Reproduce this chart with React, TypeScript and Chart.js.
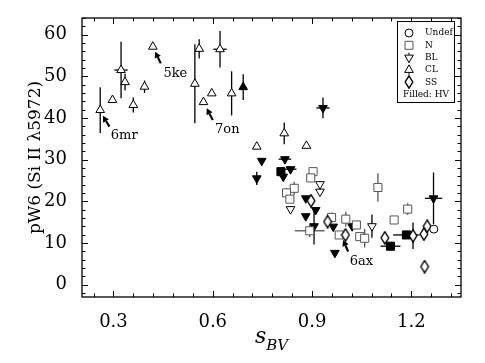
import React, { useEffect, useRef } from 'react';
import { Chart, registerables } from 'chart.js';

Chart.register(...registerables);

const FONT = '"DejaVu Serif", serif';

// ---- Data ----
const xTicks = [0.3, 0.6, 0.9, 1.2];
const yTicks = [0, 10, 20, 30, 40, 50, 60];
const xLimits = [0.205, 1.35];
const yLimits = [-3, 64];

// Undef (open circles)
const undefX = [1.268];
const undefY = [13.3];

// N (open squares)
const nX = [0.903, 0.896, 0.846, 0.823, 0.833, 0.893, 0.959, 1.002, 1.034, 0.982, 1.044, 1.059, 1.099, 1.148, 1.189];
const nY = [27.1, 25.6, 23.1, 22.0, 20.5, 12.9, 16.1, 15.7, 14.3, 11.9, 11.5, 11.1, 23.3, 15.5, 18.1];
const nXErr = [0, 0, 0, 0, 0, 0.045, 0, 0, 0, 0, 0, 0, 0, 0, 0];
const nYErr = [0, 0, 1.6, 1.2, 0, 1.5, 1.2, 1.8, 0, 0, 0, 2.2, 3.4, 0, 1.4];

// N, HV (filled squares)
const nhvX = [0.806, 1.137, 1.185];
const nhvY = [27.1, 9.2, 11.9];
const nhvXErr = [0, 0.03, 0.04];

// BL (open down triangles)
const blX = [0.924, 0.924, 0.835, 1.081];
const blY = [24.1, 22.3, 18.1, 14.0];
const blYErr = [0, 0, 0, 2.8];

// BL, HV (filled down triangles)
const blhvX = [0.933, 0.748, 0.733, 0.818, 0.835, 0.813, 0.881, 0.911, 0.881, 0.906, 0.964, 0.969, 1.021, 1.267];
const blhvY = [42.4, 29.7, 25.5, 30.1, 27.7, 25.9, 20.7, 17.9, 16.4, 14.0, 13.9, 7.6, 14.0, 20.7];
const blhvXErr = [0.02, 0, 0, 0.019, 0.018, 0, 0, 0, 0, 0, 0, 0, 0, 0.026];
const blhvYErr = [2.5, 0, 1.6, 0, 0, 0, 0, 0, 0, 4.4, 0, 0, 0, 6.2];

// CL (open up triangles)
const clX = [0.260, 0.297, 0.323, 0.335, 0.360, 0.394, 0.419, 0.546, 0.559, 0.572, 0.597, 0.622, 0.657, 0.733, 0.816, 0.883];
const clY = [41.9, 44.3, 51.5, 48.6, 43.1, 47.5, 57.1, 48.2, 56.6, 43.8, 45.9, 56.5, 45.9, 33.1, 36.3, 33.3];
const clXErr = [0, 0, 0.02, 0, 0, 0, 0, 0, 0, 0, 0, 0.02, 0, 0, 0, 0];
const clYErr = [5.5, 0, 6.8, 2.0, 1.8, 1.5, 0, 9.5, 2.3, 0, 0, 4.4, 5.3, 0, 2.6, 0];

// CL, HV (filled up triangles)
const clhvX = [0.692];
const clhvY = [47.4];
const clhvYErr = [3.1];

// SS (open thin diamonds)
const ssX = [0.897, 0.947, 1.001, 1.120, 1.205, 1.238, 1.248, 1.240];
const ssY = [20.1, 15.1, 11.9, 11.2, 11.7, 12.1, 14.0, 4.3];
const ssYErr = [0, 0, 0, 0, 3.2, 0, 0, 0];

// Annotations: label, text anchor (x, y), arrow tail (x, y), arrow head (x, y)
const annLabels = ['6mr', '5ke', '7on', '6ax'];
const annText = [[0.292, 35.7], [0.451, 50.7], [0.607, 37.3], [1.014, 5.5]];
const annTail = [[0.288, 37.9], [0.443, 53.1], [0.600, 39.5], [1.009, 7.9]];
const annHead = [[0.268, 40.5], [0.426, 55.9], [0.582, 42.3], [0.994, 10.7]];

const legendLabels = ['Undef', 'N', 'BL', 'CL', 'SS'];

// ---- helpers ----
function pts(xs: number[], ys: number[]) {
  return xs.map((x, i) => ({ x, y: ys[i] }));
}

function thinDiamond(fill: string) {
  const c = document.createElement('canvas');
  c.width = 10;
  c.height = 14;
  const g = c.getContext('2d')!;
  g.beginPath();
  g.moveTo(5, 0.8);
  g.lineTo(8.8, 7);
  g.lineTo(5, 13.2);
  g.lineTo(1.2, 7);
  g.closePath();
  g.fillStyle = fill;
  g.fill();
  g.strokeStyle = '#000';
  g.lineWidth = 1.4;
  g.stroke();
  return c;
}

const customPlugin = {
  id: 'customDraw',
  beforeDatasetsDraw(chart: any) {
    const ctx = chart.ctx;
    const xs = chart.scales.x;
    const ys = chart.scales.y;
    const a = chart.chartArea;
    ctx.save();
    ctx.beginPath();
    ctx.rect(a.left, a.top, a.right - a.left, a.bottom - a.top);
    ctx.clip();
    chart.data.datasets.forEach((ds: any) => {
      ctx.strokeStyle = ds.errColor || '#000';
      ctx.lineWidth = 1.3;
      ds.data.forEach((p: any, j: number) => {
        const ex = (ds.errX && ds.errX[j]) || 0;
        const ey = (ds.errY && ds.errY[j]) || 0;
        const px = xs.getPixelForValue(p.x);
        const py = ys.getPixelForValue(p.y);
        if (ey) {
          ctx.beginPath();
          ctx.moveTo(px, ys.getPixelForValue(p.y - ey));
          ctx.lineTo(px, ys.getPixelForValue(p.y + ey));
          ctx.stroke();
        }
        if (ex) {
          ctx.beginPath();
          ctx.moveTo(xs.getPixelForValue(p.x - ex), py);
          ctx.lineTo(xs.getPixelForValue(p.x + ex), py);
          ctx.stroke();
        }
      });
    });
    ctx.restore();
  },
  afterDatasetsDraw(chart: any) {
    const ctx = chart.ctx;
    const xs = chart.scales.x;
    const ys = chart.scales.y;
    const a = chart.chartArea;
    ctx.save();

    // frame
    ctx.strokeStyle = '#000';
    ctx.lineWidth = 1.3;
    ctx.strokeRect(a.left, a.top, a.right - a.left, a.bottom - a.top);

    // ticks (inward, all four sides)
    ctx.lineWidth = 1;
    const majL = 6;
    const minL = 3.5;
    const xStep = 0.06;
    for (let k = Math.ceil(xLimits[0] / xStep); k * xStep <= xLimits[1] + 1e-9; k++) {
      const v = k * xStep;
      const isMaj = xTicks.some((t) => Math.abs(t - v) < 1e-6);
      const px = Math.round(xs.getPixelForValue(v)) + 0.5;
      const L = isMaj ? majL : minL;
      ctx.beginPath();
      ctx.moveTo(px, a.bottom);
      ctx.lineTo(px, a.bottom - L);
      ctx.moveTo(px, a.top);
      ctx.lineTo(px, a.top + L);
      ctx.stroke();
    }
    for (let v = -2; v <= yLimits[1]; v += 2) {
      const isMaj = yTicks.includes(v);
      const py = Math.round(ys.getPixelForValue(v)) + 0.5;
      const L = isMaj ? majL : minL;
      ctx.beginPath();
      ctx.moveTo(a.left, py);
      ctx.lineTo(a.left + L, py);
      ctx.moveTo(a.right, py);
      ctx.lineTo(a.right - L, py);
      ctx.stroke();
    }

    // annotations
    ctx.fillStyle = '#000';
    ctx.strokeStyle = '#000';
    ctx.font = `13px ${FONT}`;
    ctx.textAlign = 'left';
    ctx.textBaseline = 'middle';
    annLabels.forEach((lab, i) => {
      ctx.fillText(lab, xs.getPixelForValue(annText[i][0]), ys.getPixelForValue(annText[i][1]));
      const tx = xs.getPixelForValue(annTail[i][0]);
      const ty = ys.getPixelForValue(annTail[i][1]);
      const hx = xs.getPixelForValue(annHead[i][0]);
      const hy = ys.getPixelForValue(annHead[i][1]);
      const ang = Math.atan2(hy - ty, hx - tx);
      const hl = 6;
      const hw = 3.4;
      const bx = hx - hl * Math.cos(ang);
      const by = hy - hl * Math.sin(ang);
      ctx.lineWidth = 2.2;
      ctx.beginPath();
      ctx.moveTo(tx, ty);
      ctx.lineTo(bx, by);
      ctx.stroke();
      ctx.beginPath();
      ctx.moveTo(hx, hy);
      ctx.lineTo(bx - hw * Math.sin(ang), by + hw * Math.cos(ang));
      ctx.lineTo(bx + hw * Math.sin(ang), by - hw * Math.cos(ang));
      ctx.closePath();
      ctx.fill();
    });

    // axis titles
    ctx.save();
    ctx.translate(36, (a.top + a.bottom) / 2);
    ctx.rotate(-Math.PI / 2);
    ctx.font = `17px ${FONT}`;
    ctx.textAlign = 'center';
    ctx.textBaseline = 'middle';
    ctx.fillText('pW6 (Si II \u03bb5972)', 0, 0);
    ctx.restore();

    ctx.textAlign = 'left';
    ctx.textBaseline = 'alphabetic';
    ctx.font = `italic 22px ${FONT}`;
    const sW = ctx.measureText('s').width;
    ctx.font = `italic 15px ${FONT}`;
    const bvW = ctx.measureText('BV').width;
    const total = sW + bvW;
    const x0 = (a.left + a.right) / 2 - total / 2;
    ctx.font = `italic 22px ${FONT}`;
    ctx.fillText('s', x0, 343);
    ctx.font = `italic 15px ${FONT}`;
    ctx.fillText('BV', x0 + sW, 350);

    // legend
    const lx = 397.5;
    const ly = 21.5;
    ctx.fillStyle = '#fff';
    ctx.fillRect(lx, ly, 57, 81);
    ctx.strokeStyle = '#000';
    ctx.lineWidth = 1;
    ctx.strokeRect(lx, ly, 57, 81);
    const rows = [33, 45.3, 57.6, 69.9, 82.2];
    const mx = 409;
    ctx.font = `9px ${FONT}`;
    ctx.textBaseline = 'middle';
    legendLabels.forEach((lab, i) => {
      const y = rows[i];
      ctx.fillStyle = '#000';
      ctx.fillText(lab, 425, y);
      ctx.lineWidth = 1;
      ctx.strokeStyle = '#000';
      ctx.fillStyle = '#fff';
      ctx.beginPath();
      if (i === 0) {
        ctx.arc(mx, y, 4, 0, Math.PI * 2);
        ctx.fill();
        ctx.stroke();
      } else if (i === 1) {
        ctx.strokeStyle = '#555';
        ctx.rect(mx - 4, y - 4, 8, 8);
        ctx.fill();
        ctx.stroke();
      } else if (i === 2 || i === 3) {
        ctx.moveTo(mx, y - 5);
        ctx.lineTo(mx, y + 5);
        ctx.stroke();
        ctx.beginPath();
        const s = i === 2 ? -1 : 1;
        ctx.moveTo(mx, y - s * 5);
        ctx.lineTo(mx + 4.3, y + s * 2.5);
        ctx.lineTo(mx - 4.3, y + s * 2.5);
        ctx.closePath();
        ctx.fill();
        ctx.stroke();
      } else {
        ctx.drawImage(thinDiamond('#fff'), mx - 5, Math.round(y - 7));
      }
    });
    ctx.fillStyle = '#000';
    ctx.textAlign = 'center';
    ctx.fillText('Filled: HV', lx + 28.5, 94.5);

    ctx.restore();
  },
};

export default function App() {
  const canvasRef = useRef<HTMLCanvasElement>(null);

  useEffect(() => {
    if (!canvasRef.current) return;
    const diamond = thinDiamond('#fff');
    const common = { borderWidth: 1, borderColor: '#000', pointRadius: 5, pointHoverRadius: 5 };
    const chart = new Chart(canvasRef.current, {
      type: 'scatter',
      data: {
        datasets: [
          { label: 'Undef', data: pts(undefX, undefY), ...common, pointStyle: 'circle', pointRadius: 4, backgroundColor: '#fff' } as any,
          { label: 'SS', data: pts(ssX, ssY), ...common, pointStyle: diamond, errY: ssYErr, backgroundColor: '#fff' } as any,
          { label: 'N HV', data: pts(nhvX, nhvY), ...common, pointStyle: 'rect', pointRadius: 5.7, backgroundColor: '#000', errX: nhvXErr } as any,
          { label: 'N', data: pts(nX, nY), ...common, borderColor: '#555', errColor: '#555', pointStyle: 'rect', pointRadius: 5.7, backgroundColor: '#fff', errX: nXErr, errY: nYErr } as any,
          { label: 'BL HV', data: pts(blhvX, blhvY), ...common, pointStyle: 'triangle', rotation: 180, backgroundColor: '#000', errX: blhvXErr, errY: blhvYErr } as any,
          { label: 'BL', data: pts(blX, blY), ...common, pointStyle: 'triangle', rotation: 180, backgroundColor: '#fff', errY: blYErr } as any,
          { label: 'CL HV', data: pts(clhvX, clhvY), ...common, pointStyle: 'triangle', backgroundColor: '#000', errY: clhvYErr } as any,
          { label: 'CL', data: pts(clX, clY), ...common, pointStyle: 'triangle', backgroundColor: '#fff', errX: clXErr, errY: clYErr } as any,
        ],
      },
      options: {
        animation: false,
        responsive: true,
        maintainAspectRatio: false,
        layout: { padding: { left: 0, top: 18, right: 24, bottom: 0 } },
        plugins: { legend: { display: false }, tooltip: { enabled: false } },
        scales: {
          x: {
            type: 'linear',
            min: xLimits[0],
            max: xLimits[1],
            grid: { display: false },
            border: { display: false },
            afterBuildTicks: (s: any) => {
              s.ticks = xTicks.map((v) => ({ value: v }));
            },
            afterFit: (s: any) => {
              s.height = 66;
            },
            ticks: {
              font: { family: FONT, size: 18 },
              color: '#000',
              padding: 7,
              maxRotation: 0,
              autoSkip: false,
              callback: (v: any) => Number(v).toFixed(1),
            },
          },
          y: {
            type: 'linear',
            min: yLimits[0],
            max: yLimits[1],
            grid: { display: false },
            border: { display: false },
            afterBuildTicks: (s: any) => {
              s.ticks = yTicks.map((v) => ({ value: v }));
            },
            afterFit: (s: any) => {
              s.width = 82;
            },
            ticks: {
              font: { family: FONT, size: 18 },
              color: '#000',
              padding: 7,
              autoSkip: false,
              callback: (v: any) => String(v),
            },
          },
        },
      } as any,
      plugins: [customPlugin],
    });
    return () => chart.destroy();
  }, []);

  return (
    <div style={{ position: 'fixed', left: 0, top: 0, width: 485, height: 363, background: '#fff' }}>
      <canvas ref={canvasRef} />
    </div>
  );
}
